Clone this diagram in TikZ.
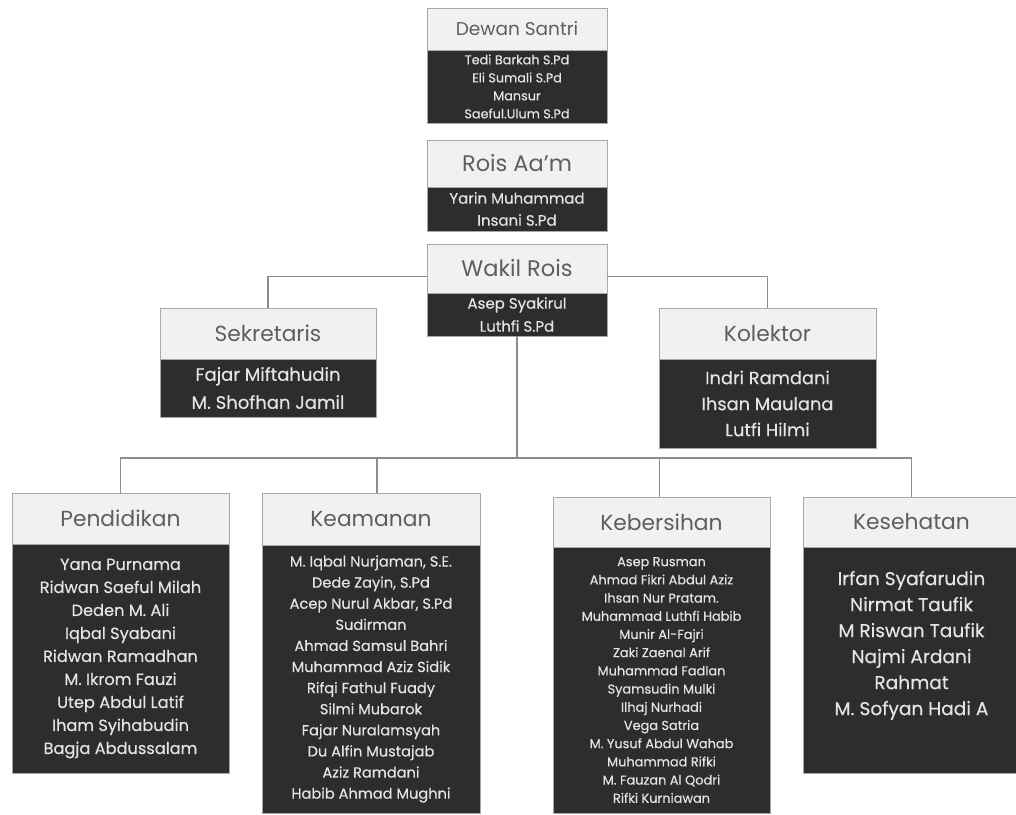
\documentclass[tikz,border=0pt]{standalone}
\usepackage{fontspec}
\setmainfont{Poppins}
\newfontfamily\namefont[FakeBold=0.4]{Poppins}
\usetikzlibrary{positioning}

\definecolor{headfill}{HTML}{F1F1F1}
\definecolor{headtext}{HTML}{5E5E5E}
\definecolor{bodyfill}{HTML}{2F2C2C}
\definecolor{bodytext}{HTML}{E4E4E4}
\definecolor{edgegray}{HTML}{A8A8A8}
\definecolor{linkgray}{HTML}{8C8C8C}

\newcommand{\setfs}[2]{\fontsize{#1}{#2}\selectfont}

\begin{document}
\begin{tikzpicture}[
  x=1pt, y=-1pt,
  every node/.style={inner sep=0pt, outer sep=0pt},
  head/.style={draw=edgegray, fill=headfill, text=headtext, line width=1pt,
               font=\setfs{21.8}{26}},
  body/.style={draw=edgegray, fill=bodyfill, text=bodytext, line width=1pt,
               align=center},
  link/.style={draw=linkgray, line width=1.4pt},
]
\useasboundingbox[fill=white] (0,0) rectangle (1016,814);

% top column
\node[head, anchor=north west, minimum width=180pt, minimum height=42pt,
      font=\setfs{18.5}{22}] (dewan) at (427,8) {Dewan Santri};
\node[body, below=0pt of dewan, minimum width=180pt, minimum height=73pt,
      font=\namefont\setfs{12.8}{18}] (dewanb)
  {Tedi Barkah S.Pd\\Eli Sumali S.Pd\\Mansur\\Saeful.Ulum S.Pd};

\node[head, anchor=north west, minimum width=180pt, minimum height=47pt,
      font=\setfs{22.5}{26}] (rois) at (427,140) {Rois Aa'm};
\node[body, below=0pt of rois, minimum width=180pt, minimum height=44pt,
      font=\namefont\setfs{15}{22}] (roisb)
  {Yarin Muhammad\\Insani S.Pd};

\node[head, anchor=north west, minimum width=180pt, minimum height=49pt,
      font=\setfs{22.5}{26}] (wakil) at (427,244) {Wakil Rois};
\node[body, below=0pt of wakil, minimum width=180pt, minimum height=43pt,
      font=\namefont\setfs{15}{23}] (wakilb)
  {Asep Syakirul\\Luthfi S.Pd};

% second row
\node[head, anchor=north west, minimum width=216pt, minimum height=51pt]
  (sek) at (160,308) {Sekretaris};
\node[body, below=0pt of sek, minimum width=216pt, minimum height=58pt,
      font=\namefont\setfs{18}{28}] (sekb)
  {Fajar Miftahudin\\M. Shofhan Jamil};

\node[head, anchor=north west, minimum width=217pt, minimum height=51pt]
  (kol) at (659,308) {Kolektor};
\node[body, below=0pt of kol, minimum width=217pt, minimum height=89pt,
      font=\namefont\setfs{17.8}{26}] (kolb)
  {Indri Ramdani\\Ihsan Maulana\\Lutfi Hilmi};

% bottom row
\node[head, anchor=north west, minimum width=217pt, minimum height=51pt]
  (pend) at (12,493) {Pendidikan};
\node[body, below=0pt of pend, minimum width=217pt, minimum height=229pt,
      font=\namefont\setfs{16.2}{23}] (pendb)
  {Yana Purnama\\Ridwan Saeful Milah\\Deden M. Ali\\Iqbal Syabani\\
   Ridwan Ramadhan\\M. Ikrom Fauzi\\Utep Abdul Latif\\Iham Syihabudin\\
   Bagja Abdussalam};

\node[head, anchor=north west, minimum width=218pt, minimum height=52pt]
  (kea) at (262,493) {Keamanan};
\node[body, below=0pt of kea, minimum width=218pt, minimum height=268pt,
      font=\namefont\setfs{14.6}{21.1}] (keab)
  {M. Iqbal Nurjaman, S.E.\\Dede Zayin, S.Pd\\Acep Nurul Akbar, S.Pd\\
   Sudirman\\Ahmad Samsul Bahri\\Muhammad Aziz Sidik\\Rifqi Fathul Fuady\\
   Silmi Mubarok\\Fajar Nuralamsyah\\Du Alfin Mustajab\\Aziz Ramdani\\
   Habib Ahmad Mughni};

\node[head, anchor=north west, minimum width=217pt, minimum height=50pt]
  (keb) at (553,497) {Kebersihan};
\node[body, below=0pt of keb, minimum width=217pt, minimum height=266pt,
      font=\namefont\setfs{12.9}{18.2}] (kebb)
  {Asep Rusman\\Ahmad Fikri Abdul Aziz\\Ihsan Nur Pratam.\\
   Muhammad Luthfi Habib\\Munir Al-Fajri\\Zaki Zaenal Arif\\
   Muhammad Fadlan\\Syamsudin Mulki\\Ilhaj Nurhadi\\Vega Satria\\
   M. Yusuf Abdul Wahab\\Muhammad Rifki\\M. Fauzan Al Qodri\\Rifki Kurniawan};

\node[head, anchor=north west, minimum width=217pt, minimum height=50pt]
  (kes) at (803,497) {Kesehatan};
\node[body, below=0pt of kes, minimum width=217pt, minimum height=226pt,
      text depth=34pt, font=\namefont\setfs{18.6}{26}] (kesb)
  {Irfan Syafarudin\\Nirmat Taufik\\M Riswan Taufik\\Najmi Ardani\\
   Rahmat\\M. Sofyan Hadi A};

% connectors
\coordinate (bus) at (0,458);
\draw[link] (sek.north) |- ([yshift=-8pt]wakil.west);
\draw[link] (kol.north) |- ([yshift=-8pt]wakil.east);
\draw[link] (wakilb.south) -- (wakilb.south |- bus);
\draw[link] (pend.north) -- (pend.north |- bus) -| (kes.north);
\draw[link] ([xshift=6pt]kea.north) -- ([xshift=6pt]kea.north |- bus);
\draw[link] ([xshift=-2pt]keb.north) -- ([xshift=-2pt]keb.north |- bus);
\end{tikzpicture}
\end{document}
